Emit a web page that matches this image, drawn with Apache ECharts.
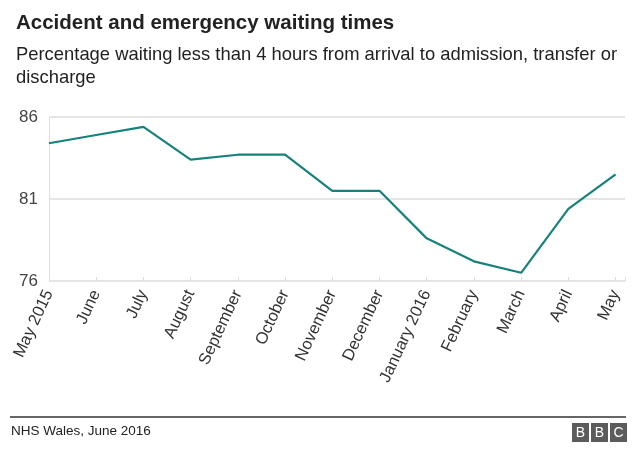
<!DOCTYPE html>
<html><head><meta charset="utf-8">
<script src="https://cdn.jsdelivr.net/npm/echarts@6/dist/echarts.min.js"></script>
<style>html,body{margin:0;padding:0;background:#fff}#c{width:640px;height:456px}</style>
</head><body><div id="c"></div>
<script>
const categories = ["May 2015","June","July","August","September","October","November","December","January 2016","February","March","April","May"];
const values = [84.4, 84.9, 85.4, 83.4, 83.7, 83.7, 81.5, 81.5, 78.6, 77.2, 76.5, 80.4, 82.5];
const yTicks = [76, 81, 86];

const chart = echarts.init(document.getElementById('c'), null, {renderer:'canvas'});
const font = '"Liberation Sans", Arial, sans-serif';
chart.setOption({
  animation:false,
  textStyle:{fontFamily:font},
  title:[
    {text:'Accident and emergency waiting times', left:11, top:8,
     textStyle:{fontSize:20.5, fontWeight:'bold', color:'#222', fontFamily:font}},
    {text:'Percentage waiting less than 4 hours from arrival to admission, transfer or\ndischarge', left:11, top:38,
     textStyle:{fontSize:18.4, fontWeight:'normal', color:'#222', lineHeight:23, fontFamily:font}}
  ],
  grid:{left:49, right:15, top:117, height:164, containLabel:false},
  xAxis:{type:'value', min:0, max:12.2, interval:1,
    axisLine:{show:false},
    axisTick:{show:true, inside:true, length:4, lineStyle:{color:'#ddd'}},
    splitLine:{show:false},
    axisLabel:{rotate:65, fontSize:16.5, color:'#333', margin:10, fontFamily:font,
      showMaxLabel:true,
      formatter:function(v){ const i=Math.round(v); return (Math.abs(v-i)<1e-6 && categories[i]!==undefined)?categories[i]:''; }}
  },
  yAxis:{type:'value', min:76, max:86, interval:5,
    axisLine:{show:true, lineStyle:{color:'#e0e0e0'}},
    axisTick:{show:false},
    splitLine:{lineStyle:{color:'#dcdcdc', width:1.5}},
    axisLabel:{fontSize:17, color:'#444', margin:11, fontFamily:font,
      formatter:function(v){ return yTicks.indexOf(v)>=0 ? String(v) : ''; }}
  },
  series:[{type:'line', data:values.map((v,i)=>[i,v]), symbol:'none',
    lineStyle:{color:'#16827b', width:2.2}}],
  graphic:[
    {type:'line', shape:{x1:10,y1:417,x2:626,y2:417}, style:{stroke:'#333', lineWidth:1.5}},
    {type:'text', left:11, top:424, style:{text:'NHS Wales, June 2016', font:'13.5px '+font, fill:'#222'}},
    {type:'group', left:572, top:423, children:[
      {type:'rect', shape:{x:0,y:0,width:17,height:19}, style:{fill:'#5c5c5c'}},
      {type:'rect', shape:{x:19,y:0,width:17,height:19}, style:{fill:'#5c5c5c'}},
      {type:'rect', shape:{x:38,y:0,width:17,height:19}, style:{fill:'#5c5c5c'}},
      {type:'text', x:8.5, y:10, style:{text:'B', font:'14px '+font, fill:'#fff', align:'center', verticalAlign:'middle'}},
      {type:'text', x:27.5, y:10, style:{text:'B', font:'14px '+font, fill:'#fff', align:'center', verticalAlign:'middle'}},
      {type:'text', x:46.5, y:10, style:{text:'C', font:'14px '+font, fill:'#fff', align:'center', verticalAlign:'middle'}}
    ]}
  ]
});
</script></body></html>
